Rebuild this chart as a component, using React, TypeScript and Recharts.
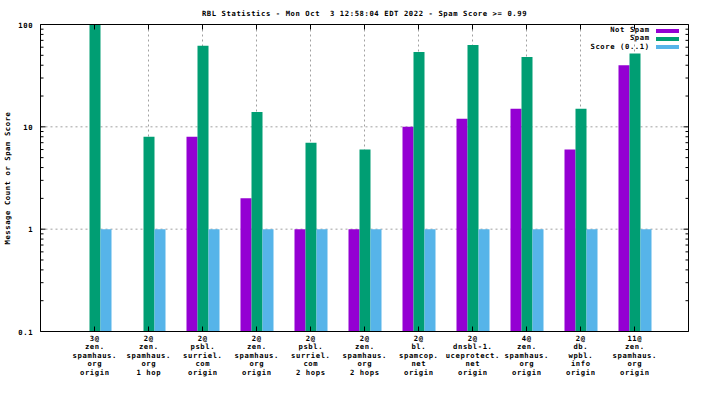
import React from "react";
import {
  Bar,
  BarChart,
  CartesianGrid,
  Legend,
  XAxis,
  YAxis,
} from "recharts";

const categories = [
  "3@|zen.|spamhaus.|org|origin",
  "2@|zen.|spamhaus.|org|1 hop",
  "2@|psbl.|surriel.|com|origin",
  "2@|zen.|spamhaus.|org|origin",
  "2@|psbl.|surriel.|com|2 hops",
  "2@|zen.|spamhaus.|org|2 hops",
  "2@|bl.|spamcop.|net|origin",
  "2@|dnsbl-1.|uceprotect.|net|origin",
  "4@|zen.|spamhaus.|org|origin",
  "2@|db.|wpbl.|info|origin",
  "11@|zen.|spamhaus.|org|origin",
];
const notSpam = [null, null, 8, 2, 1, 1, 10, 12, 15, 6, 40];
const spam = [100, 8, 62, 14, 7, 6, 54, 63, 48, 15, 52];
const score = [1, 1, 1, 1, 1, 1, 1, 1, 1, 1, 1];

const majorTicks = [0.1, 1, 10, 100];
const gridTicks = [1, 10];
const yTicks = [
  0.1, 0.2, 0.3, 0.4, 0.5, 0.6, 0.7, 0.8, 0.9,
  1, 2, 3, 4, 5, 6, 7, 8, 9,
  10, 20, 30, 40, 50, 60, 70, 80, 90, 100,
];

const series = [
  { key: "notSpam", name: "Not Spam", color: "#9400d3" },
  { key: "spam", name: "Spam", color: "#009e73" },
  { key: "score", name: "Score (0..1)", color: "#56b4e9" },
];

const data = categories.map((c, i) => ({
  cat: c,
  notSpam: notSpam[i],
  spam: spam[i],
  score: score[i],
}));

// small mono font, spaced out to match the gnuplot bitmap font width
const FONT = "'DejaVu Sans Mono', monospace";
const FS = 7.2;
const LS = 0.6;
const FW = "bold";

function BottomTick(props: any) {
  const { x, y, payload } = props;
  const lines = String(payload.value).split("|");
  return (
    <g>
      <line x1={x} y1={y} x2={x} y2={y - 5} stroke="#000" />
      <text
        x={x + LS / 2}
        y={y + 9.5}
        textAnchor="middle"
        fontFamily={FONT}
        fontSize={FS}
        fontWeight={FW}
        letterSpacing={LS}
        fill="#000"
      >
        {lines.map((l, i) => (
          <tspan key={i} x={x + LS / 2} dy={i === 0 ? 0 : 8.4}>
            {l}
          </tspan>
        ))}
      </text>
    </g>
  );
}

function TopTick(props: any) {
  const { x, y } = props;
  return <line x1={x} y1={y} x2={x} y2={y + 5} stroke="#000" />;
}

function LeftTick(props: any) {
  const { x, y, payload } = props;
  const major = majorTicks.includes(payload.value);
  return (
    <g>
      <line x1={x} y1={y} x2={x + (major ? 5 : 3)} y2={y} stroke="#000" />
      {major && (
        <text
          x={x - 8 + LS}
          y={y + 3}
          textAnchor="end"
          fontFamily={FONT}
          fontSize={FS}
          fontWeight={FW}
          letterSpacing={LS}
          fill="#000"
        >
          {payload.value}
        </text>
      )}
    </g>
  );
}

function RightTick(props: any) {
  const { x, y, payload } = props;
  const major = majorTicks.includes(payload.value);
  return <line x1={x} y1={y} x2={x - (major ? 5 : 3)} y2={y} stroke="#000" />;
}

function KeyBox() {
  return (
    <div
      style={{
        position: "absolute",
        left: 0,
        top: 0,
        width: 139,
        fontFamily: FONT,
        fontSize: FS,
        fontWeight: FW,
        letterSpacing: LS,
      }}
    >
      {series.map((s) => (
        <div
          key={s.key}
          style={{
            display: "flex",
            justifyContent: "flex-end",
            alignItems: "flex-start",
            height: 8.4,
            lineHeight: "8.4px",
          }}
        >
          <span style={{ whiteSpace: "pre" }}>{s.name}</span>
          <span
            style={{
              display: "inline-block",
              width: 23,
              height: 4,
              marginLeft: 7 - LS,
              marginTop: 2.5,
              background: s.color,
            }}
          />
        </div>
      ))}
    </div>
  );
}

export default function App() {
  return (
    <div style={{ position: "absolute", left: 0, top: 0, width: 704, height: 396, background: "#fff" }}>
      <div
        style={{
          position: "absolute",
          left: 40.5,
          width: 648,
          top: 8,
          textAlign: "center",
          fontFamily: FONT,
          fontSize: FS,
          fontWeight: FW,
          letterSpacing: LS,
          whiteSpace: "pre",
          lineHeight: "12px",
        }}
      >
        RBL Statistics - Mon Oct  3 12:58:04 EDT 2022 - Spam Score &gt;= 0.99
      </div>
      <BarChart
        width={704}
        height={396}
        data={data}
        margin={{ top: 0, right: 0, bottom: 0, left: 0 }}
        barSize={11}
        barGap={0}
      >
        <CartesianGrid stroke="#a0a0a0" strokeDasharray="2 3" yAxisId="grid" />
        <XAxis
          dataKey="cat"
          height={64.5}
          interval={0}
          padding={{ left: 27, right: 27 }}
          stroke="#000"
          tickSize={0}
          tickMargin={0}
          tick={<BottomTick />}
        />
        <XAxis
          xAxisId="top"
          dataKey="cat"
          orientation="top"
          height={24.5}
          interval={0}
          padding={{ left: 27, right: 27 }}
          stroke="#000"
          tickSize={0}
          tickMargin={0}
          tick={<TopTick />}
        />
        <YAxis
          scale="log"
          type="number"
          domain={[0.1, 100]}
          allowDataOverflow
          ticks={yTicks}
          interval={0}
          width={40.5}
          stroke="#000"
          tickSize={0}
          tickMargin={0}
          tick={<LeftTick />}
          label={() => (
            <text
              transform="translate(9.5,178) rotate(-90)"
              textAnchor="middle"
              fontFamily={FONT}
              fontSize={FS}
              fontWeight={FW}
              letterSpacing={LS}
              fill="#000"
            >
              Message Count or Spam Score
            </text>
          )}
        />
        <YAxis
          yAxisId="right"
          orientation="right"
          scale="log"
          type="number"
          domain={[0.1, 100]}
          allowDataOverflow
          ticks={yTicks}
          interval={0}
          width={15.5}
          stroke="#000"
          tickSize={0}
          tickMargin={0}
          tick={<RightTick />}
        />
        <YAxis
          yAxisId="grid"
          hide
          scale="log"
          type="number"
          domain={[0.1, 100]}
          allowDataOverflow
          ticks={gridTicks}
          interval={0}
        />
        <Legend
          content={<KeyBox />}
          wrapperStyle={{ position: "absolute", left: 540, top: 26, width: 139, height: 0 }}
        />
        {series.map((s) => (
          <Bar
            key={s.key}
            dataKey={s.key}
            name={s.name}
            fill={s.color}
            isAnimationActive={false}
          />
        ))}
      </BarChart>
    </div>
  );
}
